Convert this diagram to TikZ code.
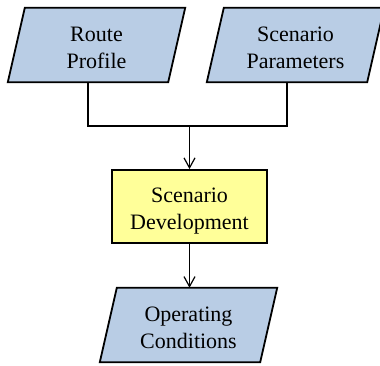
\documentclass[tikz,border=0pt]{standalone}
\usepackage{fontspec}
\setmainfont{Liberation Serif}
\usetikzlibrary{arrows.meta}
\definecolor{parablue}{HTML}{B9CDE5}
\definecolor{boxyellow}{HTML}{FFFF99}
\tikzset{
  txt/.style={draw=none, align=center, font=\fontsize{22}{27}\selectfont,
    minimum width=160pt, minimum height=74pt, inner sep=0pt},
  paraline/.style={draw=black, fill=parablue, line width=1.8pt, line join=miter},
  procbox/.style={draw=black, fill=boxyellow, line width=1.8pt,
    minimum width=155pt, minimum height=73pt, inner sep=0pt},
  conn/.style={draw=black, line width=1.2pt},
  arr/.style={conn, -{Straight Barb[length=10pt,width=11pt,line width=1.2pt]}}
}
\newcommand{\paraoutline}[1]{%
  \path[paraline] ([xshift=-8.5pt]#1.south west) -- ([xshift=-8.5pt]#1.south east)
    -- ([xshift=8.5pt]#1.north east) -- ([xshift=8.5pt]#1.north west) -- cycle;}
\begin{document}
\begin{tikzpicture}[x=1pt, y=-1pt]
\useasboundingbox (0,0) rectangle (380,365);
\clip (0,0) rectangle (380,365);
% anchor nodes for the parallelograms
\path (96.5,45) node[txt] (rp) {};
\path (295.5,45) node[txt] (sp) {};
\path (188.5,325) node[txt] (oc) {};
\paraoutline{rp}
\paraoutline{sp}
\paraoutline{oc}
\node[procbox] (sd) at (189.5,206.5) {};
\node[txt, yshift=-2.5pt] (rpt) at (rp.center) {Route\\Profile};
\node[txt, yshift=-3pt] (spt) at (sp.center) {Scenario\\Parameters};
\node[txt, yshift=-2.5pt] (oct) at (oc.center) {Operating\\Conditions};
\node[txt, yshift=-5pt] (sdt) at (sd.center) {Scenario\\Development};
\coordinate (rpb) at ([xshift=-8.5pt]rp.south);
\coordinate (spb) at ([xshift=-8.5pt]sp.south);
\coordinate (j) at (sd.north |- 0,126);
\draw[conn] (rpb) |- (j) -| (spb);
\draw[arr] (j) -- (sd.north);
\draw[arr] (sd.south) -- (sd.south |- oc.north);
\end{tikzpicture}
\end{document}
